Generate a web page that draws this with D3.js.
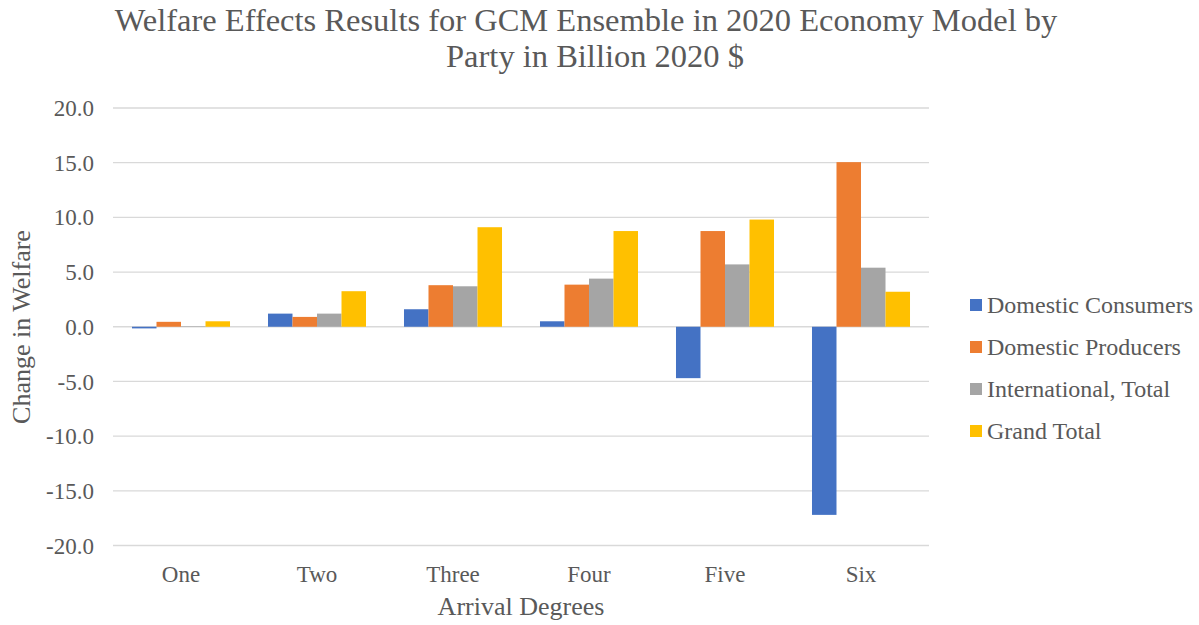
<!DOCTYPE html>
<html>
<head>
<meta charset="utf-8">
<script src="https://cdn.jsdelivr.net/npm/d3@7"></script>
<style>
  html, body { margin: 0; padding: 0; background: #fff; }
  svg text { font-family: "Liberation Serif", "Times New Roman", serif; fill: #595959; }
</style>
</head>
<body>
<svg id="chart" width="1199" height="625"></svg>
<script>
// Welfare effects by party and arrival degree (billion 2020 $)
const categories = ["One", "Two", "Three", "Four", "Five", "Six"];
const seriesNames = ["Domestic Consumers", "Domestic Producers", "International, Total", "Grand Total"];
const domesticConsumers = [-0.15, 1.2, 1.6, 0.5, -4.7, -17.2];
const domesticProducers = [0.45, 0.9, 3.8, 3.85, 8.75, 15.05];
const internationalTotal = [0.05, 1.2, 3.7, 4.4, 5.7, 5.4];
const grandTotal = [0.5, 3.25, 9.1, 8.75, 9.8, 3.2];
const yTicks = [-20, -15, -10, -5, 0, 5, 10, 15, 20];
const colors = ["#4472C4", "#ED7D31", "#A5A5A5", "#FFC000"];

const seriesValues = [domesticConsumers, domesticProducers, internationalTotal, grandTotal];
const serif = '"Liberation Serif", "Times New Roman", serif';

const svg = d3.select("#chart");
const plot = { left: 113, right: 929, top: 108, bottom: 545.5 };

const x = d3.scaleBand().domain(categories).range([plot.left, plot.right]);
// four bars per group, gap between groups ~1.55 bar widths
const x1 = d3.scaleBand().domain(seriesNames).range([0, x.bandwidth()]).paddingOuter(0.775);
const y = d3.scaleLinear().domain([-20, 20]).range([plot.bottom, plot.top]);

// gridlines
svg.append("g")
  .selectAll("line")
  .data(yTicks)
  .join("line")
  .attr("x1", plot.left).attr("x2", plot.right)
  .attr("y1", d => y(d)).attr("y2", d => y(d))
  .attr("stroke", "#d9d9d9").attr("stroke-width", 1.3);

// y axis labels (plain hyphen for negatives)
const yAxis = d3.axisLeft(y).tickValues(yTicks)
  .tickFormat(d => d.toFixed(1)).tickSize(0).tickPadding(0);
const gy = svg.append("g").attr("transform", "translate(94,0)").call(yAxis);
gy.select(".domain").remove();
gy.selectAll("text")
  .style("font-family", serif)
  .style("font-size", "23px").attr("fill", "#595959").attr("dy", "0.33em");

// bars
const rows = categories.map((c, i) => ({ c, vals: seriesValues.map((s, k) => ({ k, v: s[i] })) }));
const groups = svg.append("g").selectAll("g").data(rows).join("g")
  .attr("transform", d => `translate(${x(d.c)},0)`);
groups.selectAll("rect").data(d => d.vals).join("rect")
  .attr("x", d => x1(seriesNames[d.k]))
  .attr("width", x1.bandwidth())
  .attr("y", d => y(Math.max(0, d.v)))
  .attr("height", d => Math.abs(y(d.v) - y(0)))
  .attr("fill", d => colors[d.k]);

// x axis labels
const xAxis = d3.axisBottom(x).tickSize(0).tickPadding(0);
const gx = svg.append("g").attr("transform", "translate(0,582)").call(xAxis);
gx.select(".domain").remove();
gx.selectAll("text")
  .style("font-family", serif)
  .style("font-size", "23px").attr("fill", "#595959").attr("dy", 0);

// axis titles
svg.append("text").attr("x", (plot.left + plot.right) / 2).attr("y", 615)
  .attr("text-anchor", "middle").style("font-size", "26px").text("Arrival Degrees");
svg.append("text").attr("transform", "translate(30,327) rotate(-90)")
  .attr("text-anchor", "middle").style("font-size", "26px").text("Change in Welfare");

// title
const title = svg.append("text").attr("text-anchor", "middle").style("font-size", "32.5px");
title.append("tspan").attr("x", 586).attr("y", 31).text("Welfare Effects Results for GCM Ensemble in 2020 Economy Model by");
title.append("tspan").attr("x", 595).attr("y", 67).text("Party in Billion 2020 $");

// legend
const legend = svg.append("g").selectAll("g").data(seriesNames).join("g")
  .attr("transform", (d, i) => `translate(970,${305 + i * 42})`);
legend.append("rect").attr("x", 0).attr("y", -6).attr("width", 12).attr("height", 12)
  .attr("fill", (d, i) => colors[i]);
legend.append("text").attr("x", 17).attr("y", 0).attr("dy", "0.35em")
  .style("font-size", "24px").text(d => d);
</script>
</body>
</html>
